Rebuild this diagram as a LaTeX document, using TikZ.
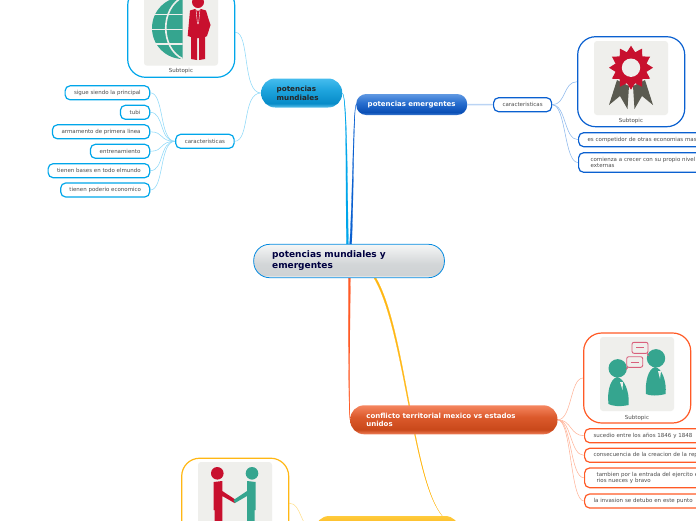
\documentclass[tikz,border=0pt]{standalone}
\usepackage{fontspec}
\usetikzlibrary{backgrounds}
\setmainfont{DejaVu Sans}
\definecolor{cLB}{HTML}{00A6EA}
\definecolor{cB}{HTML}{0A60D0}
\definecolor{cO}{HTML}{FF5A26}
\definecolor{cY}{HTML}{FFB714}
\definecolor{lLB}{HTML}{8FD9F8}
\definecolor{lB}{HTML}{8DB8EC}
\definecolor{lO}{HTML}{FFB49A}
\definecolor{lY}{HTML}{FFDF8E}
\definecolor{imgbg}{HTML}{EFEFEC}
\definecolor{icoG}{HTML}{35A58F}
\definecolor{icoR}{HTML}{C8102E}
\definecolor{icoD}{HTML}{5A5A50}
\definecolor{icoP}{HTML}{D9607C}
\definecolor{ga1}{HTML}{CFD3D5}\definecolor{ga2}{HTML}{D2D5D7}\definecolor{ga3}{HTML}{F5F6F6}
\definecolor{gb0}{HTML}{5CC2EC}\definecolor{gb1}{HTML}{078BC8}\definecolor{gb2}{HTML}{1EA4DD}\definecolor{gb3}{HTML}{45BCEE}
\definecolor{gc0}{HTML}{3A78D0}\definecolor{gc1}{HTML}{0A4FB6}\definecolor{gc2}{HTML}{2A70D0}\definecolor{gc3}{HTML}{6099E2}
\definecolor{gd0}{HTML}{F0805A}\definecolor{gd1}{HTML}{C9481A}\definecolor{gd2}{HTML}{DC5A2C}\definecolor{gd3}{HTML}{F58660}
\definecolor{ge0}{HTML}{FFD060}\definecolor{ge1}{HTML}{F0A000}\definecolor{ge2}{HTML}{FBB31C}\definecolor{ge3}{HTML}{FFCB3C}
\pgfdeclareverticalshading{gcenter}{100bp}{color(0bp)=(white);color(25bp)=(white);color(29bp)=(ga1);color(45bp)=(ga2);color(75bp)=(ga3);color(100bp)=(ga3)}
\pgfdeclareverticalshading{gmund}{100bp}{color(0bp)=(gb0);color(25bp)=(gb0);color(32bp)=(gb1);color(55bp)=(gb2);color(75bp)=(gb3);color(100bp)=(gb3)}
\pgfdeclareverticalshading{gemer}{100bp}{color(0bp)=(gc0);color(25bp)=(gc0);color(32bp)=(gc1);color(55bp)=(gc2);color(75bp)=(gc3);color(100bp)=(gc3)}
\pgfdeclareverticalshading{gconf}{100bp}{color(0bp)=(gd0);color(25bp)=(gd0);color(33bp)=(gd1);color(55bp)=(gd2);color(75bp)=(gd3);color(100bp)=(gd3)}
\pgfdeclareverticalshading{gyell}{100bp}{color(0bp)=(ge0);color(25bp)=(ge0);color(33bp)=(ge1);color(55bp)=(ge2);color(75bp)=(ge3);color(100bp)=(ge3)}
\tikzset{
  x=1pt,y=-1pt,
  itembox/.style={draw=#1,line width=1.2pt,fill=white,rounded corners=5pt,inner ysep=0pt,minimum height=14pt,
    font=\fontsize{5.5}{6.2}\selectfont,text=black!70},
  itemwest/.style={itembox=#1,anchor=west,align=left,inner xsep=9pt,text width=125pt},
  picbox/.style={draw=#1,line width=1.2pt,fill=white,rounded corners=18pt,minimum width=107pt,minimum height=90pt,inner sep=0pt},
  subcap/.style={font=\fontsize{5.5}{6.2}\selectfont,text=black!70,inner sep=0pt},
  imgrect/.style={fill=imgbg,rounded corners=3pt},
  mainbox/.style={rounded corners=14pt,inner ysep=0pt,align=left,anchor=west,shading=#1},
  conn/.style={draw=#1,line width=.55pt},
  taperline/.style={draw=#1,fill=#1,line width=.2pt},
}
\begin{document}
\begin{tikzpicture}
\useasboundingbox (0,0) rectangle (696,520);
\clip (0,0) rectangle (696,520);

% ---- main topics ----
\node[mainbox=gcenter,draw=cLB!60!cB,line width=.8pt,minimum width=190.7pt,minimum height=33.4pt,text width=153.7pt,inner xsep=18.5pt,rounded corners=16pt,
  text=blue!25!black,font=\bfseries\fontsize{9}{11}\selectfont] (center) at (253.3,261) {potencias mundiales y\\emergentes};
\node[mainbox=gmund,minimum width=81pt,minimum height=29pt,text width=50pt,inner xsep=15.5pt,
  text=black!85,font=\bfseries\fontsize{7.2}{9}\selectfont] (mund) at (261,93) {potencias\\mundiales};
\node[mainbox=gemer,minimum width=111pt,minimum height=21pt,rounded corners=10pt,text width=100pt,inner xsep=5.5pt,align=center,
  text=white,font=\bfseries\fontsize{7}{9}\selectfont] (emer) at (356,104.5) {potencias emergentes};
\node[mainbox=gconf,minimum width=207.3pt,minimum height=29pt,text width=175pt,inner xsep=16pt,
  text=white,font=\bfseries\fontsize{7}{8.5}\selectfont] (conf) at (350,419.8) {conflicto territorial mexico vs estados\\unidos};
\node[mainbox=gyell,minimum width=144pt,minimum height=29pt] (yell) at (315,530.5) {};

% ---- picture boxes ----
\node[picbox=cLB] (subL) at (181.2,32.3) {};
\node[picbox=cB] (subB) at (631.2,81.7) {};
\node[picbox=cO] (subO) at (637.2,378) {};
\node[picbox=cY] (subY) at (235.2,503.2) {};
\node[subcap] (capL) at (181,71) {Subtopic};
\node[subcap] (capB) at (631,121) {Subtopic};
\node[subcap] (capO) at (637,417.5) {Subtopic};

% ---- items (light blue) ----
\node[itembox=cLB,anchor=east,minimum width=58.4pt,inner xsep=0pt] (car1) at (234.7,141.3) {caracteristicas};
\node[itembox=cLB,anchor=east,minimum width=84.6pt,inner xsep=0pt] (a1) at (150.3,92.8) {sigue siendo la principal};
\node[itembox=cLB,anchor=east,minimum width=29.3pt,inner xsep=0pt] (a2) at (150.3,112.3) {tubi};
\node[itembox=cLB,anchor=east,minimum width=97.3pt,inner xsep=0pt] (a3) at (150.3,131.8) {armamento de primera linea};
\node[itembox=cLB,anchor=east,minimum width=59.3pt,inner xsep=0pt] (a4) at (150.3,151.3) {entrenamiento};
\node[itembox=cLB,anchor=east,minimum width=101.6pt,inner xsep=0pt] (a5) at (150.3,170.7) {tienen bases en todo elmundo};
\node[itembox=cLB,anchor=east,minimum width=89pt,inner xsep=0pt] (a6) at (150.3,190) {tienen poderio economico};

% ---- items (blue) ----
\node[itembox=cB,anchor=west,minimum width=58pt,inner xsep=0pt] (car2) at (493,104.7) {caracteristicas};
\node[itemwest=cB] (b1) at (578,139.7) {es competidor de otras economias mas};
\node[itemwest=cB,inner xsep=12pt,minimum height=19.6pt] (b2) at (578,162.5) {comienza a crecer con su propio nivel\\externas};

% ---- items (orange) ----
\node[itemwest=cO] (c1) at (584,435.7) {sucedio entre los años 1846 y 1848};
\node[itemwest=cO] (c2) at (584,455.3) {consecuencia de la creacion de la rep};
\node[itemwest=cO,inner xsep=12pt,minimum height=19.7pt] (c3) at (584,477.8) {tambien por la entrada del ejercito e\\rios nueces y bravo};
\node[itemwest=cO] (c4) at (584,501) {la invasion se detubo en este punto};

% ---- connectors ----
\begin{scope}[on background layer]
\draw[conn=lLB] (subL.east) .. controls (250,32) and (242,93) .. (mund.west);
\draw[conn=lLB] (car1.east) .. controls (250,141) and (242,93) .. (mund.west);
\foreach \n in {a1,a2,a3,a4,a5,a6}
  \draw[conn=lLB] (car1.west) .. controls +(-16,0) and ([xshift=14]\n.east) .. (\n.east);
\draw[draw=lB!60,line width=1.5pt] (emer.east) -- (car2.west);
\foreach \n in {subB,b1,b2}
  \draw[conn=lB] (car2.east) .. controls +(14,0) and ([xshift=-14]\n.west) .. (\n.west);
\draw[conn=lO] (conf.east) .. controls (572,420) and (570,378) .. (subO.west);
\foreach \n in {c1,c2,c3,c4}
  \draw[conn=lO] (conf.east) .. controls +(14,0) and ([xshift=-14]\n.west) .. (\n.west);
\draw[conn=lY] (subY.east) .. controls (302,503) and (300,530) .. (yell.west);
% tapered main branches
\draw[taperline=cLB] (mund.east) .. controls (347,97) and (345.5,190) .. ([xshift=-2.6]center.north)
   -- ([xshift=-.6]center.north) .. controls (347.2,190) and (347.6,97) .. (mund.east);
\draw[taperline=cB] (emer.west) .. controls (353,110) and (352.6,200) .. ([xshift=.6]center.north)
   -- ([xshift=2.6]center.north) .. controls (353.6,200) and (353.6,110) .. (emer.west);
\draw[taperline=cO] (conf.west) .. controls (348.5,410) and (348.4,340) .. ([xshift=-.7]center.south)
   -- ([xshift=1.4]center.south) .. controls (349.6,340) and (349.4,410) .. (conf.west);
\draw[taperline=cY] ([xshift=55]yell.north) .. controls (412,480) and (404.6,330) .. ([xshift=25]center.south)
   -- ([xshift=27]center.south) .. controls (406,330) and (412.6,480) .. ([xshift=55]yell.north);
\end{scope}

% globe + man
\fill[imgrect] (144,-8) rectangle (218,65.7);
\begin{scope}
  \clip (140,-10) rectangle (182.7,70);
  \fill[icoG] (183,28) circle (31);
  \draw[imgbg,line width=1.6pt] (183,-3) .. controls (160,8) and (160,48) .. (183,59);
  \draw[imgbg,line width=1.6pt] (150,14.5) -- (185,14.5);
  \draw[imgbg,line width=1.6pt] (150,29.5) -- (185,29.5);
  \draw[imgbg,line width=1.6pt] (150,44) -- (185,44);
\end{scope}
\fill[icoR] (198,2) circle (6);
\fill[icoR] (190,10.5) -- (195,9) -- (198,11) -- (201,9) -- (206,10.5) -- (208.5,19) -- (210.5,25) -- (207,36) -- (205,37)
  -- (205,59) -- (199,60) -- (199,38) -- (197,38) -- (197,60) -- (191,59) -- (191,37) -- (187.7,36) -- cycle;
\draw[white,line width=.4pt] (196,9.5) -- (197.5,24) (200,9.5) -- (198.5,24);

% medal
\fill[imgrect] (594,41) rectangle (668,115);
\fill[icoD] (617,80) -- (609,105) -- (620,96) -- (627.5,109) -- (629,86) -- cycle;
\fill[icoD] (645,80) -- (653,105) -- (642,96) -- (634.5,109) -- (633,86) -- cycle;
\fill[icoR] plot[samples=25,domain=0:360,variable=\t] ({631+(mod(round(\t/15),2)==0?22:16)*sin(\t)},{67.7-(mod(round(\t/15),2)==0?22:16)*cos(\t)}) -- cycle;
\fill[imgbg] (631,67.7) circle (9.2);

% chat
\fill[imgrect] (600,337) rectangle (674,411);
\fill[icoG] (617.7,368.3) circle (9.2);
\fill[icoG] (617,377) .. controls (624,378) and (630,392) .. (628.5,405) .. controls (620,407) and (612,406) .. (608.5,404) .. controls (607,392) and (610,379) .. (617,377) -- cycle;
\fill[icoG] (656,358.3) circle (9.2);
\fill[icoG] (655,367) .. controls (662,368) and (667,382) .. (665.5,394) .. controls (658,396) and (650,396) .. (646,394) .. controls (645,382) and (648,369) .. (655,367) -- cycle;
\fill[imgbg] (620,382) -- (622.5,390) -- (623,382) -- cycle;
\fill[imgbg] (658,371) -- (660,379) -- (661,371) -- cycle;
\draw[icoP,line width=.9pt,rounded corners=2pt] (632,342.3) rectangle (648,353.3);
\draw[icoP,line width=.9pt,rounded corners=2pt] (626.7,356.7) rectangle (642.7,367.3);
\draw[icoP,line width=.9pt] (636,347.8) -- (644,347.8) (630.5,362) -- (639,362);
\draw[icoP,line width=.9pt] (647,353.3) -- (648.5,356) (628,367.3) -- (626,369.5);

% handshake
\fill[imgrect] (198,462) rectangle (272,536);
\fill[icoR] (217.3,473.3) circle (6.3);
\fill[icoG] (252,473.3) circle (6.3);
\fill[icoR] (213.7,482) -- (222.3,481) -- (222.3,491) -- (236,500) -- (234.5,503) -- (222.3,496) -- (222.3,536) -- (214.7,536) -- (214.7,510) -- (213.7,510) -- cycle;
\fill[icoG] (255.7,482) -- (247,481) -- (247,491) -- (233.5,500) -- (235,503) -- (247,496) -- (247,536) -- (254.7,536) -- (254.7,510) -- (255.7,510) -- cycle;
\end{tikzpicture}
\end{document}
